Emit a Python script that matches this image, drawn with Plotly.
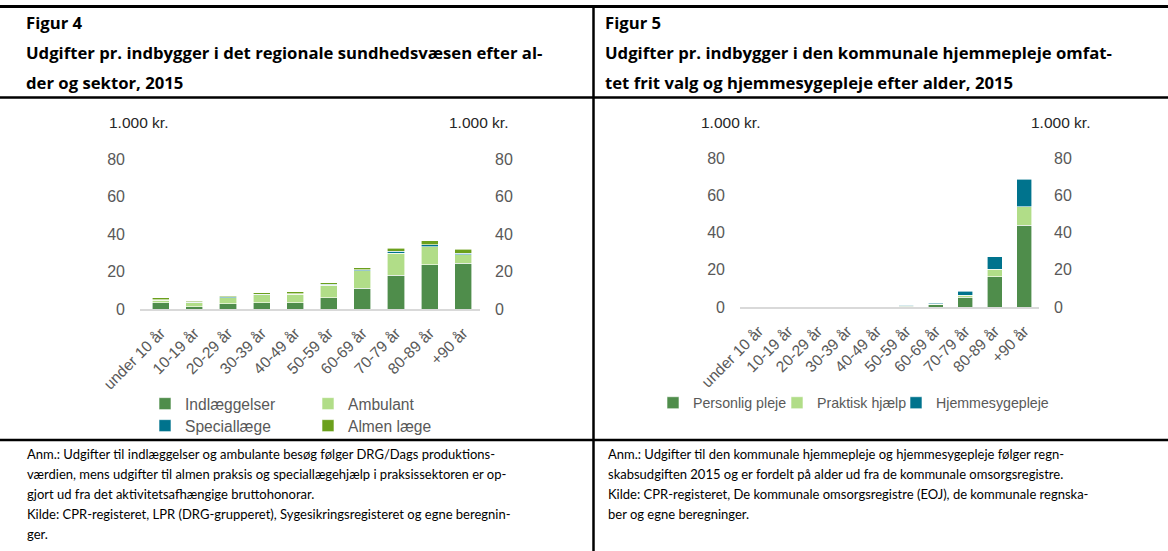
import plotly.graph_objects as go

W, H = 1168, 551

def px(x):
    return x / W

def py(y):
    return 1 - y / H

# ---------------- data ----------------
categories = ["under 10 år", "10-19 år", "20-29 år", "30-39 år", "40-49 år",
              "50-59 år", "60-69 år", "70-79 år", "80-89 år", "+90 år"]

# Figur 4 (1.000 kr.)
indlaeggelser = [3.3, 1.3, 2.7, 3.4, 3.4, 6.0, 11.0, 18.0, 23.7, 24.4]
ambulant = [1.4, 2.1, 3.4, 4.1, 4.4, 6.7, 9.4, 11.7, 9.5, 4.6]
speciallaege = [0.3, 0.3, 0.4, 0.4, 0.4, 0.5, 0.5, 1.0, 1.1, 0.7]
almen_laege = [0.9, 0.5, 0.5, 0.8, 0.9, 0.9, 1.2, 1.6, 2.1, 2.1]

# Figur 5 (1.000 kr.)
personlig_pleje = [0, 0, 0, 0, 0, 0.3, 1.2, 5.2, 16.3, 43.9]
praktisk_hjaelp = [0, 0, 0, 0, 0, 0.5, 0.3, 1.1, 4.1, 10.0]
hjemmesygepleje = [0, 0, 0, 0, 0, 0.1, 0.5, 2.1, 6.6, 14.6]

y_ticks = [0, 20, 40, 60, 80]

# ---------------- styles ----------------
C_DARK = "#4F8D4B"
C_LIGHT = "#B1DD88"
C_TEAL = "#00738D"
C_OLIVE = "#6BA01C"
GRAY = "#595959"
CHART_FONT = "Liberation Sans, Arial, sans-serif"
TITLE_FONT = "Open Sans, Lato, sans-serif"
NOTE_FONT = "Lato, Open Sans, sans-serif"

fig = go.Figure()

def bar(name, vals, color, xa, ya, legend):
    fig.add_trace(go.Bar(
        x=categories, y=vals, name=name, xaxis=xa, yaxis=ya, legend=legend,
        marker=dict(color=color, line=dict(color="white", width=0.6)),
        hoverinfo="skip"))

bar("Indlæggelser", indlaeggelser, C_DARK, "x", "y", "legend")
bar("Ambulant", ambulant, C_LIGHT, "x", "y", "legend2")
bar("Speciallæge", speciallaege, C_TEAL, "x", "y", "legend3")
bar("Almen læge", almen_laege, C_OLIVE, "x", "y", "legend4")

bar("Personlig pleje", personlig_pleje, C_DARK, "x2", "y3", "legend5")
bar("Praktisk hjælp", praktisk_hjaelp, C_LIGHT, "x2", "y3", "legend6")
bar("Hjemmesygepleje", hjemmesygepleje, C_TEAL, "x2", "y3", "legend7")

# invisible anchors for the mirrored right-hand axes
fig.add_trace(go.Scatter(x=[categories[0]], y=[0], xaxis="x", yaxis="y2",
                         mode="markers", marker=dict(opacity=0), showlegend=False,
                         hoverinfo="skip"))
fig.add_trace(go.Scatter(x=[categories[0]], y=[0], xaxis="x2", yaxis="y4",
                         mode="markers", marker=dict(opacity=0), showlegend=False,
                         hoverinfo="skip"))

tickfont = dict(family=CHART_FONT, size=16, color=GRAY)
xfont = dict(family=CHART_FONT, size=15.5, color=GRAY)

def xaxis(domain):
    return dict(domain=domain, type="category", categoryorder="array",
                categoryarray=categories, tickangle=-45, tickfont=xfont,
                showline=True, linecolor="#D9D9D9", linewidth=2, ticks="",
                ticklabelstandoff=7,
                showgrid=False, zeroline=False, fixedrange=True,
                automargin=False)

def yaxis(domain, anchor, side, overlaying=None):
    d = dict(domain=domain, anchor=anchor, side=side, range=[0, 80],
             tickvals=y_ticks, tickfont=tickfont, showgrid=False,
             zeroline=False, showline=False, ticks="", ticklabelstandoff=14,
             fixedrange=True, automargin=False)
    if overlaying:
        d["overlaying"] = overlaying
    return d

L_DOM_X = [px(140), px(480)]
L_DOM_Y = [py(309), py(159)]
R_DOM_X = [px(740), px(1039)]
R_DOM_Y = [py(307), py(158)]

legfont_l = dict(family=CHART_FONT, size=15.6, color=GRAY)
legfont_r = dict(family=CHART_FONT, size=14.2, color=GRAY)

# each legend entry is placed by the x position where its text starts
def leg(text_x, y, font):
    return dict(orientation="h", x=px(text_x - 41), y=py(y), xanchor="left",
                yanchor="middle", font=font, traceorder="normal",
                bgcolor="rgba(0,0,0,0)", itemclick=False,
                itemdoubleclick=False)

fig.update_layout(
    width=W, height=H, autosize=False,
    margin=dict(l=0, r=0, t=0, b=0, pad=0, autoexpand=False),
    paper_bgcolor="white", plot_bgcolor="white",
    barmode="stack", bargap=0.49,
    xaxis=xaxis(L_DOM_X) | dict(anchor="y"),
    yaxis=yaxis(L_DOM_Y, "x", "left"),
    yaxis2=yaxis(L_DOM_Y, "x", "right", "y"),
    xaxis2=xaxis(R_DOM_X) | dict(anchor="y3"),
    yaxis3=yaxis(R_DOM_Y, "x2", "left"),
    yaxis4=yaxis(R_DOM_Y, "x2", "right", "y3"),
    legend=leg(186, 404, legfont_l),
    legend2=leg(349, 404, legfont_l),
    legend3=leg(186, 426, legfont_l),
    legend4=leg(349, 426, legfont_l),
    legend5=leg(694, 403, legfont_r),
    legend6=leg(818, 403, legfont_r),
    legend7=leg(937, 403, legfont_r),
    showlegend=True,
)

annotations = []

def text(x, y, s, size, bold=False, family=TITLE_FONT, color="black",
         xanchor="left"):
    annotations.append(dict(
        x=px(x), y=py(y), xref="paper", yref="paper", text=s, showarrow=False,
        xanchor=xanchor, yanchor="middle",
        font=dict(family=family, size=size, color=color,
                  weight="bold" if bold else "normal")))

# titles
TS = 16.7
text(24, 23, "Figur 4", TS, True)
text(24, 53, "Udgifter pr. indbygger i det regionale sundhedsvæsen efter al-", TS, True)
text(24, 82, "der og sektor, 2015", TS, True)
text(603, 23, "Figur 5", TS, True)
text(603, 53, "Udgifter pr. indbygger i den kommunale hjemmepleje omfat-", TS, True)
text(603, 82, "tet frit valg og hjemmesygepleje efter alder, 2015", TS, True)

# unit labels
UC = "#262626"
text(138, 122, "1.000 kr.", 15.5, family=CHART_FONT, color=UC, xanchor="center")
text(478, 122, "1.000 kr.", 15.5, family=CHART_FONT, color=UC, xanchor="center")
text(730, 122, "1.000 kr.", 15.5, family=CHART_FONT, color=UC, xanchor="center")
text(1060, 122, "1.000 kr.", 15.5, family=CHART_FONT, color=UC, xanchor="center")

# notes
notes_left = [
    "Anm.: Udgifter til indlæggelser og ambulante besøg følger DRG/Dags produktions-",
    "værdien, mens udgifter til almen praksis og speciallægehjælp i praksissektoren er op-",
    "gjort ud fra det aktivitetsafhængige bruttohonorar.",
    "Kilde: CPR-registeret, LPR (DRG-grupperet), Sygesikringsregisteret og egne beregnin-",
    "ger.",
]
notes_right = [
    "Anm.: Udgifter til den kommunale hjemmepleje og hjemmesygepleje følger regn-",
    "skabsudgiften 2015 og er fordelt på alder ud fra de kommunale omsorgsregistre.",
    "Kilde: CPR-registeret, De kommunale omsorgsregistre (EOJ), de kommunale regnska-",
    "ber og egne beregninger.",
]
for i, s in enumerate(notes_left):
    text(25, 454 + 20 * i, s, 13, family=NOTE_FONT)
for i, s in enumerate(notes_right):
    text(606, 454 + 20 * i, s, 13, family=NOTE_FONT)

fig.update_layout(annotations=annotations)

# frame lines
shapes = []

def hline(y, x0, x1, w):
    shapes.append(dict(type="line", xref="paper", yref="paper",
                       x0=px(x0), x1=px(x1), y0=py(y), y1=py(y),
                       line=dict(color="black", width=w)))

def vline(x, y0, y1, w):
    shapes.append(dict(type="line", xref="paper", yref="paper",
                       x0=px(x), x1=px(x), y0=py(y0), y1=py(y1),
                       line=dict(color="black", width=w)))

hline(6.5, 0, W, 3)
hline(97.5, 0, W, 2.5)
hline(440, 0, W, 2.5)
vline(593.5, 5, H, 2.5)

fig.update_layout(shapes=shapes)

fig.write_html(
    "out.html",
    config={"displayModeBar": False},
    post_script="document.body.style.margin='0';"
                "document.body.style.overflow='hidden';",
)
